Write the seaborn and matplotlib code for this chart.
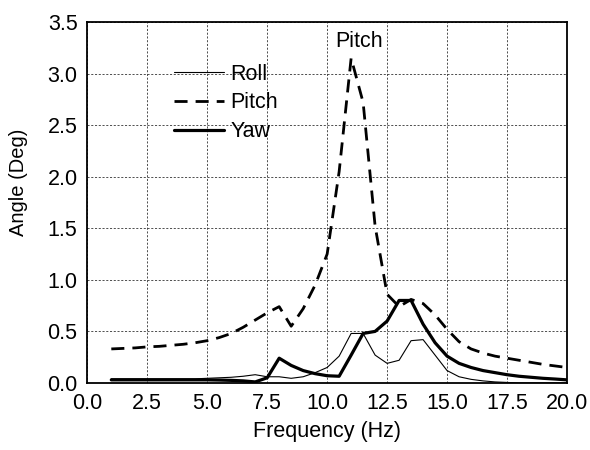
import matplotlib
matplotlib.use("Agg")
import matplotlib.pyplot as plt
import seaborn as sns
import pandas as pd
import numpy as np

freq = [1.0, 1.5, 2.0, 2.5, 3.0, 3.5, 4.0, 4.5, 5.0, 5.5, 6.0, 6.5, 7.0, 7.5,
        8.0, 8.5, 9.0, 9.5, 10.0, 10.5, 11.0, 11.5, 12.0, 12.5, 13.0, 13.5,
        14.0, 14.5, 15.0, 15.5, 16.0, 16.5, 17.0, 17.5, 18.0, 18.5, 19.0, 19.5, 20.0]
roll = [0.04, 0.04, 0.04, 0.04, 0.04, 0.04, 0.04, 0.04, 0.045, 0.05, 0.055, 0.065, 0.08, 0.06,
        0.06, 0.045, 0.06, 0.10, 0.15, 0.26, 0.48, 0.48, 0.27, 0.19, 0.22, 0.41,
        0.42, 0.27, 0.12, 0.06, 0.035, 0.02, 0.01, 0.005, 0.0, 0.0, 0.0, 0.0, 0.0]
pitch = [0.33, 0.335, 0.34, 0.35, 0.355, 0.365, 0.375, 0.39, 0.41, 0.44, 0.48, 0.54, 0.61, 0.68,
         0.74, 0.55, 0.72, 0.95, 1.25, 2.05, 3.15, 2.72, 1.52, 0.86, 0.74, 0.81,
         0.77, 0.66, 0.52, 0.40, 0.33, 0.29, 0.26, 0.24, 0.22, 0.20, 0.18, 0.165, 0.15]
yaw = [0.03, 0.03, 0.03, 0.03, 0.03, 0.03, 0.03, 0.03, 0.03, 0.028, 0.025, 0.02, 0.01, 0.05,
       0.24, 0.17, 0.12, 0.09, 0.07, 0.065, 0.27, 0.48, 0.50, 0.60, 0.80, 0.80,
       0.57, 0.39, 0.26, 0.19, 0.15, 0.12, 0.10, 0.08, 0.065, 0.055, 0.045, 0.038, 0.03]
series_names = ["Roll", "Pitch", "Yaw"]
xticks = [0.0, 2.5, 5.0, 7.5, 10.0, 12.5, 15.0, 17.5, 20.0]
yticks = [0.0, 0.5, 1.0, 1.5, 2.0, 2.5, 3.0, 3.5]

sns.set_theme(style="white")
plt.rcParams["font.family"] = ["Liberation Sans", "DejaVu Sans"]
plt.rcParams["text.color"] = "black"
plt.rcParams["axes.labelcolor"] = "black"

df = pd.DataFrame({"Frequency": freq * 3,
                   "Angle": roll + pitch + yaw,
                   "Series": sum([[n] * len(freq) for n in series_names], [])})

pitch_dash = (4.7, 2.9)

fig = plt.figure(figsize=(5.9, 4.5), dpi=100)
ax = fig.add_axes([0.148, 0.149, 0.813, 0.802])

sns.lineplot(data=df, x="Frequency", y="Angle", hue="Series", style="Series",
             hue_order=series_names, style_order=series_names,
             palette=["black", "black", "black"],
             dashes={"Roll": "", "Pitch": pitch_dash, "Yaw": ""},
             size="Series", sizes={"Roll": 0.8, "Pitch": 2.0, "Yaw": 2.3},
             size_order=series_names,
             ax=ax, legend=False)

ax.set_xlim(0, 20)
ax.set_ylim(0, 3.5)
ax.set_xticks(xticks)
ax.set_yticks(yticks)
ax.set_xticklabels([f"{v:.1f}" for v in xticks])
ax.set_yticklabels([f"{v:.1f}" for v in yticks])
ax.tick_params(axis="both", direction="out", length=5, width=1, labelsize=15.5,
               color="black", labelcolor="black", pad=2)
ax.grid(True, color="#333333", linestyle=(0, (2.5, 2)), linewidth=0.6)
for s in ax.spines.values():
    s.set_color("black")
    s.set_linewidth(1.3)
ax.set_xlabel("Frequency (Hz)", fontsize=15.5, color="black", labelpad=5)
ax.set_ylabel("Angle (Deg)", fontsize=14.5, color="black")
ax.yaxis.set_label_coords(-0.123, 0.557)

handles = [plt.Line2D([], [], color="black", lw=0.8),
           plt.Line2D([], [], color="black", lw=2.0, dashes=pitch_dash),
           plt.Line2D([], [], color="black", lw=2.3)]
ax.legend(handles, series_names, loc="upper left", bbox_to_anchor=(0.181, 0.885),
          frameon=False, fontsize=15.5, handlelength=2.3, handletextpad=0.3,
          labelspacing=0.36, borderaxespad=0, borderpad=0, labelcolor="black")

ax.text(11.35, 3.31, "Pitch", ha="center", va="center", fontsize=15.5, color="black")

fig.savefig("out.png", dpi=100)
